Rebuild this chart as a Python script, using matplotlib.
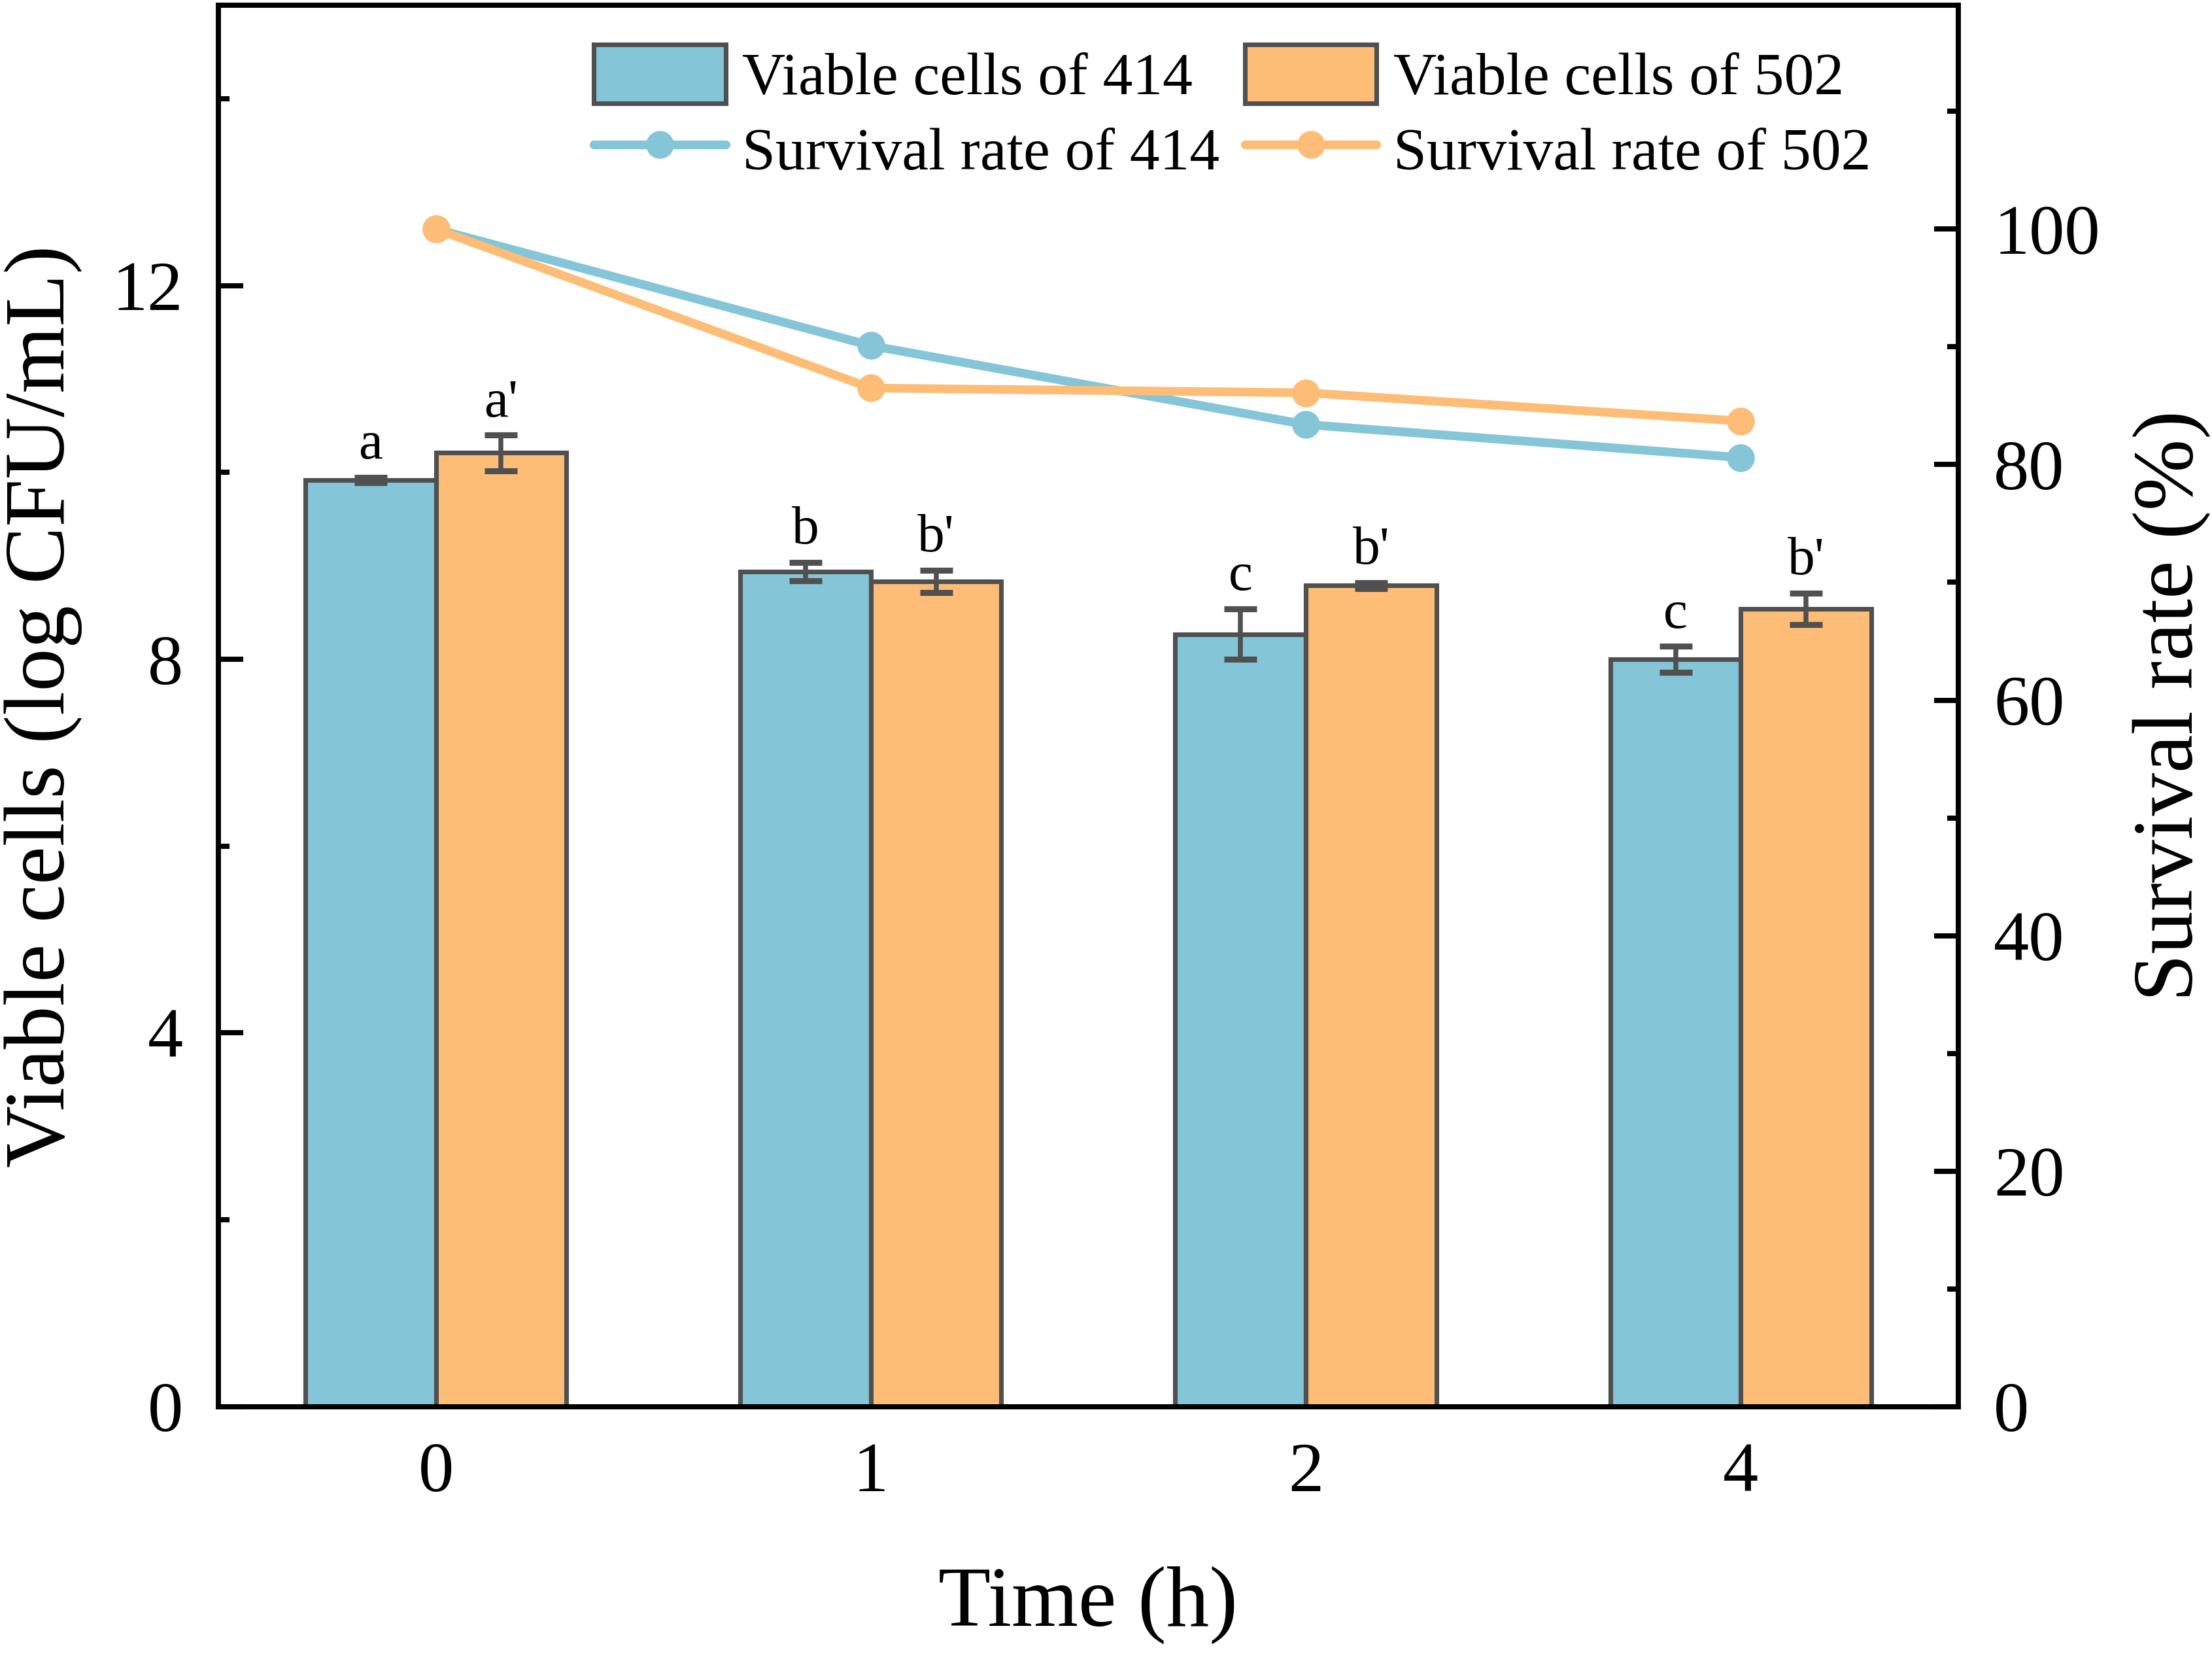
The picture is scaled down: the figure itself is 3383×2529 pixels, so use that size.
import matplotlib
matplotlib.use("Agg")
import matplotlib.pyplot as plt
import numpy as np
from matplotlib.ticker import MultipleLocator

plt.rcParams['font.family'] = ['Liberation Serif', 'DejaVu Serif']

# data
times = ['0', '1', '2', '4']
viable_414 = [9.92, 8.94, 8.27, 8.00]
viable_502 = [10.21, 8.835, 8.79, 8.54]
err_414 = [0.03, 0.10, 0.27, 0.14]
err_502 = [0.19, 0.12, 0.03, 0.17]
letters_414 = ['a', 'b', 'c', 'c']
letters_502 = ["a'", "b'", "b'", "b'"]
survival_414 = [100, 90.1, 83.4, 80.6]
survival_502 = [100, 86.5, 86.1, 83.7]

blue = '#84C5D7'
orange = '#FDBD77'
edge = '#505050'

fig = plt.figure(figsize=(3383 / 300, 2529 / 300), dpi=300)
ax = fig.add_axes([0.0987, 0.1495, 0.7866, 0.8473])
ax2 = ax.twinx()

x = np.arange(len(times))
w = 0.3
b1 = ax.bar(x - w / 2, viable_414, w, color=blue, edgecolor=edge, linewidth=1.7,
            label='Viable cells of 414', zorder=2)
b2 = ax.bar(x + w / 2, viable_502, w, color=orange, edgecolor=edge, linewidth=1.7,
            label='Viable cells of 502', zorder=2)
ax.errorbar(x - w / 2, viable_414, yerr=err_414, fmt='none', ecolor=edge,
            elinewidth=1.8, capsize=6, capthick=2.2, zorder=3)
ax.errorbar(x + w / 2, viable_502, yerr=err_502, fmt='none', ecolor=edge,
            elinewidth=1.8, capsize=6, capthick=2.2, zorder=3)

for i in range(len(times)):
    ax.text(x[i] - w / 2, viable_414[i] + err_414[i] + 0.2, letters_414[i],
            ha='center', va='baseline', fontsize=20)
    ax.text(x[i] + w / 2, viable_502[i] + err_502[i] + 0.2, letters_502[i],
            ha='center', va='baseline', fontsize=20)

l1, = ax2.plot(x, survival_414, color=blue, lw=3.2, marker='o', ms=9.2,
               label='Survival rate of 414', solid_capstyle='round')
l2, = ax2.plot(x, survival_502, color=orange, lw=3.2, marker='o', ms=9.2,
               label='Survival rate of 502', solid_capstyle='round')

ax.set_xlim(-0.5, 3.5)
ax.set_ylim(0, 15)
ax2.set_ylim(0, 119)
ax.set_xticks(x)
ax.set_xticklabels(times)
ax.yaxis.set_major_locator(MultipleLocator(4))
ax.yaxis.set_minor_locator(MultipleLocator(2))
ax2.yaxis.set_major_locator(MultipleLocator(20))
ax2.yaxis.set_minor_locator(MultipleLocator(10))

for a in (ax, ax2):
    for s in a.spines.values():
        s.set_linewidth(1.8)
    a.tick_params(which='major', direction='in', length=9, width=1.9,
                  labelsize=26, pad=13)
    a.tick_params(which='minor', direction='in', length=4, width=1.9)
ax.tick_params(axis='x', which='minor', bottom=False)

ax.set_xlabel('Time (h)', fontsize=31.5, labelpad=22)
ax.set_ylabel('Viable cells (log CFU/mL)', fontsize=31.5, labelpad=11)
ax2.set_ylabel('Survival rate (%)', fontsize=31.5, labelpad=12)

fig.legend([b1, l1, b2, l2],
           ['Viable cells of 414', 'Survival rate of 414',
            'Viable cells of 502', 'Survival rate of 502'],
           ncol=2, loc='upper left', bbox_to_anchor=(862 / 3383, 1 - 22 / 2529),
           frameon=False, fontsize=22, borderpad=0, handlelength=2.2,
           handleheight=1.13, handletextpad=0.28, columnspacing=0.42,
           labelspacing=0.22)

fig.savefig('out.png', dpi=300)
